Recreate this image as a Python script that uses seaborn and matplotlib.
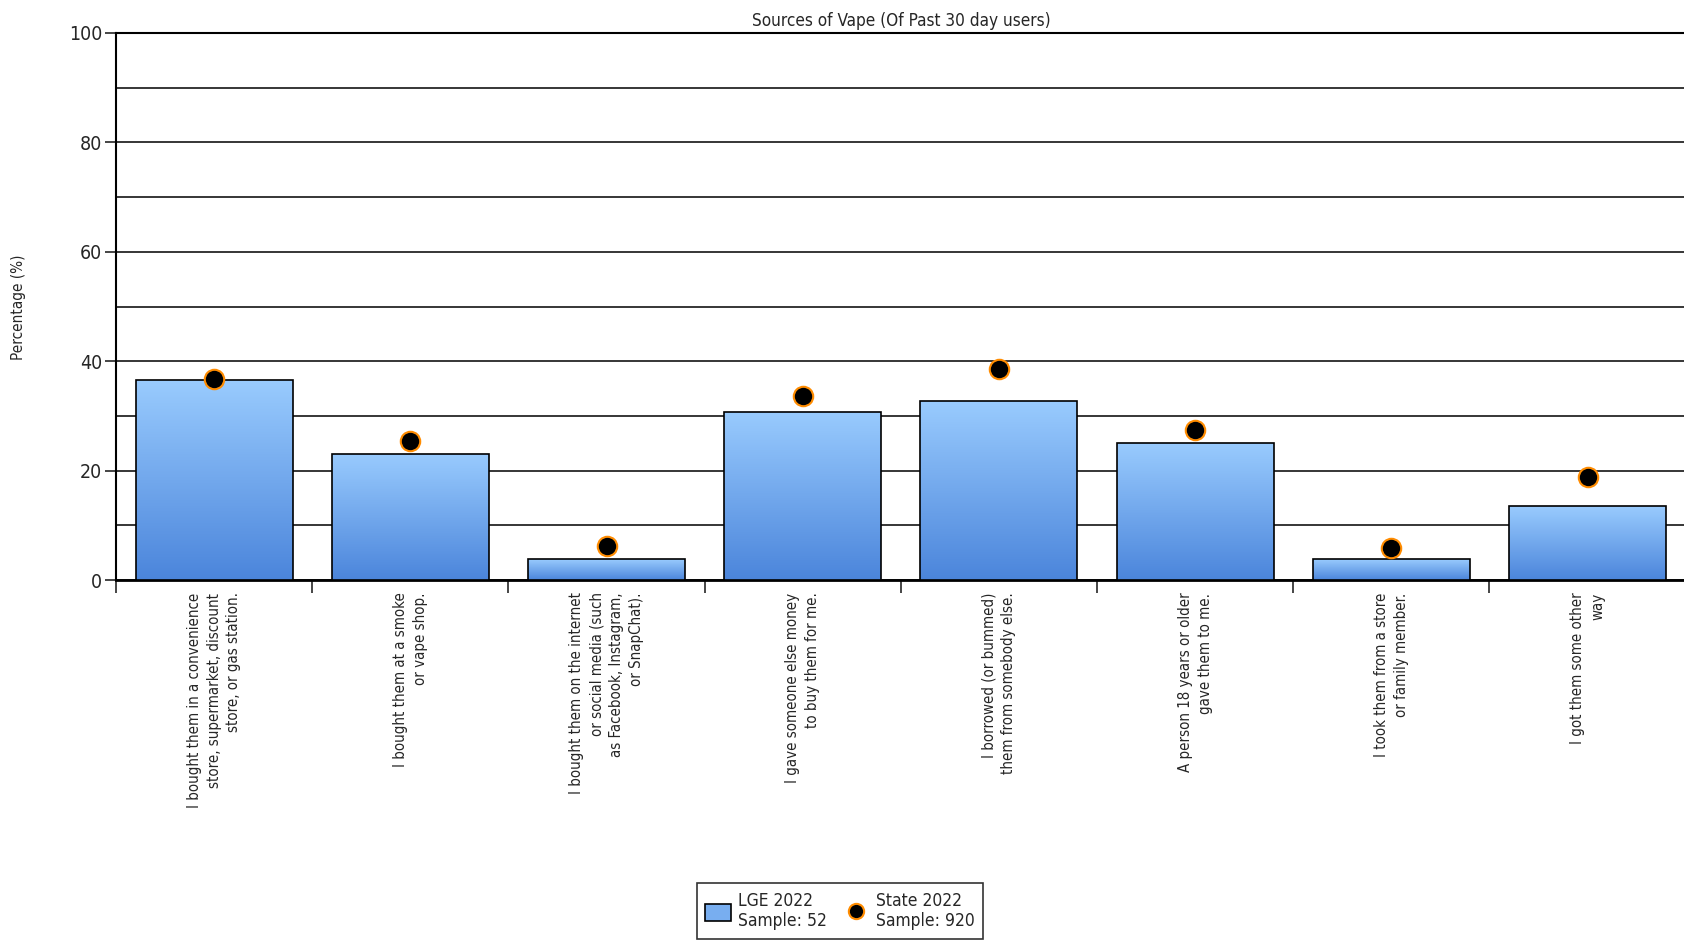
import numpy as np
import matplotlib
matplotlib.use("Agg")
import matplotlib.pyplot as plt
import seaborn as sns
from matplotlib.colors import LinearSegmentedColormap
from matplotlib.patches import Patch
from matplotlib.lines import Line2D

# Data
categories = [
    "I bought them in a convenience\nstore, supermarket, discount\nstore, or gas station.",
    "I bought them at a smoke\nor vape shop.",
    "I bought them on the internet\nor social media (such\nas Facebook, Instagram,\nor SnapChat).",
    "I gave someone else money\nto buy them for me.",
    "I borrowed (or bummed)\nthem from somebody else.",
    "A person 18 years or older\ngave them to me.",
    "I took them from a store\nor family member.",
    "I got them some other\nway",
]
lge_2022 = [36.5, 23.1, 3.8, 30.8, 32.7, 25.0, 3.8, 13.5]
state_2022 = [36.8, 25.4, 6.2, 33.7, 38.5, 27.4, 5.8, 18.8]
legend_labels = ["LGE 2022\nSample: 52", "State 2022\nSample: 920"]

sns.set_style("white")
plt.rcParams['font.family'] = ['DejaVu Sans']
plt.rcParams['font.stretch'] = 'condensed'

fig = plt.figure(figsize=(16.84, 9.41), dpi=100)
ax = fig.add_axes([116 / 1684, 1 - 580 / 941, 1 - 116 / 1684 + 0.001, (580 - 33) / 941])

positions = list(range(len(categories)))
sns.barplot(x=positions, y=lge_2022, ax=ax, color="#78aef0", width=0.8,
            edgecolor="black", linewidth=1.2, zorder=3, native_scale=False)

# gradient fill inside each bar
cmap = LinearSegmentedColormap.from_list("bar", ["#4b85db", "#99cbfe"])
grad = np.linspace(0, 1, 256).reshape(-1, 1)
for p in ax.patches:
    x0, y0 = p.get_x(), p.get_y()
    w, h = p.get_width(), p.get_height()
    p.set_facecolor("none")
    im = ax.imshow(grad, cmap=cmap, origin="lower", aspect="auto",
                   extent=[x0, x0 + w, y0, y0 + h], zorder=2.9)
    im.set_clip_path(p)

sns.stripplot(x=positions, y=state_2022, ax=ax, jitter=False, color="black",
              size=14, edgecolor="#ff8c00", linewidth=1.5, zorder=5,
              native_scale=False)

ax.set_xlim(-0.5, len(categories) - 0.5)
ax.set_ylim(0, 100)

# y axis: labelled ticks every 20, gridlines every 10
ax.set_yticks([0, 20, 40, 60, 80, 100])
ax.set_yticks([10, 30, 50, 70, 90], minor=True)
ax.yaxis.grid(True, which="both", color="black", linewidth=1.1, zorder=0)
ax.tick_params(axis="y", which="major", left=True, length=8, width=1.2,
               labelsize=14, pad=2)
ax.tick_params(axis="y", which="minor", left=False)

# x axis: tick marks at category boundaries, labels at centres
ax.set_xticks(np.arange(-0.5, len(categories), 1.0))
ax.set_xticklabels([])
ax.set_xticks(positions, minor=True)
ax.set_xticklabels(categories, minor=True, rotation=90, ha="center", va="top",
                   multialignment="right", fontsize=10.8, linespacing=1.4)
ax.tick_params(axis="x", which="major", bottom=True, length=9, width=1.2)
ax.tick_params(axis="x", which="minor", bottom=False, pad=7)
ax.xaxis.grid(False)
ax.set_xlabel("")
ax.set_ylabel("")

for side in ["left", "bottom", "top"]:
    ax.spines[side].set_visible(True)
    ax.spines[side].set_color("black")
ax.spines["left"].set_linewidth(1.5)
ax.spines["bottom"].set_linewidth(2)
ax.spines["top"].set_linewidth(1.5)
ax.spines["right"].set_visible(False)

ax.set_title("Sources of Vape (Of Past 30 day users)", fontsize=12.3, pad=5)
fig.text(19 / 1684, 1 - 307 / 941, "Percentage (%)", rotation=90,
         ha="center", va="center", fontsize=11)

handles = [
    Patch(facecolor="#78aef0", edgecolor="black", linewidth=1.2),
    Line2D([], [], marker="o", linestyle="none", markerfacecolor="black",
           markeredgecolor="#ff8c00", markersize=11, markeredgewidth=1.5),
]
leg = fig.legend(handles, legend_labels, loc="upper center", ncol=2,
                 bbox_to_anchor=(840 / 1684, 1 - 883 / 941), frameon=True,
                 fancybox=False, edgecolor="black", fontsize=12.5,
                 handlelength=1.5, handleheight=1.1, handletextpad=0.4,
                 columnspacing=0.9, borderpad=0.5, borderaxespad=0)
leg.get_frame().set_linewidth(1.2)

fig.savefig("out.png", dpi=100)
